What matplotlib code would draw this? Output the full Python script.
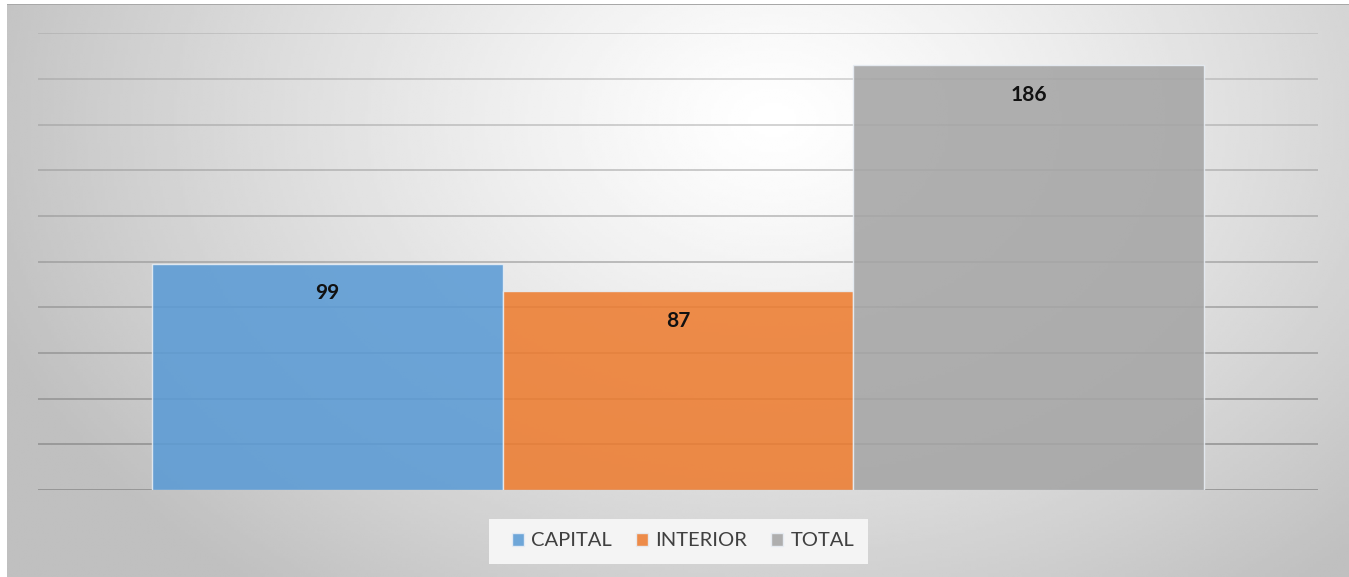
import matplotlib.pyplot as plt
import numpy as np
from matplotlib.patches import Rectangle

categories = ['CAPITAL', 'INTERIOR', 'TOTAL']
values = [99, 87, 186]
colors = ['#5b9bd5', '#ed7d31', '#a5a5a5']
yticks = [0, 20, 40, 60, 80, 100, 120, 140, 160, 180, 200]

plt.rcParams['font.family'] = ['Lato', 'DejaVu Sans']

fig = plt.figure(figsize=(13.49, 5.77), dpi=100)
fig.patch.set_facecolor('white')

# radial gray background of the chart area
bg = fig.add_axes([7 / 1349, 0, 1 - 7 / 1349, 573 / 577])
bg.set_zorder(-2)
h, w = 200, 470
yy, xx = np.mgrid[0:h, 0:w]
cx, cy = w * 0.57, h * 0.2
r = np.sqrt(((xx - cx) / (w * 0.62)) ** 2 + ((yy - cy) / (h * 1.05)) ** 2)
shade = 1.0 - 0.25 * np.clip(r, 0, 1) ** 1.2
bg.imshow(shade, cmap='gray', vmin=0, vmax=1, aspect='auto', interpolation='bilinear')
bg.set_axis_off()
fig.add_artist(Rectangle((7 / 1349, 572 / 577), 1, 1.2 / 577, transform=fig.transFigure,
                         color='#a8a8a8', lw=0, zorder=-1))
# legend background box
fig.add_artist(Rectangle((489 / 1349, 13 / 577), 379 / 1349, 45 / 577,
                         transform=fig.transFigure, color='#f4f4f4', lw=0, zorder=-1))

ax = fig.add_axes([38 / 1349, 87 / 577, 1280 / 1349, 456.6 / 577])
ax.patch.set_alpha(0)
x = np.arange(len(categories))
bars = ax.bar(x, values, width=1.0, color=colors, alpha=0.88,
              edgecolor='#e8eef5', linewidth=1.0, zorder=1)

ax.set_xlim(-0.825, 2.825)
ax.set_ylim(0, 200)
ax.set_yticks(yticks)
ax.yaxis.grid(True, color='#8c8c8c', lw=1.3, zorder=0)
gl = ax.get_ygridlines()
for i, line in enumerate(gl):
    line.set_alpha(0.85 - 0.055 * i)
ax.set_axisbelow(True)
ax.tick_params(left=False, bottom=False, labelleft=False, labelbottom=False)
for s in ax.spines.values():
    s.set_visible(False)

for b, v in zip(bars, values):
    ax.annotate(str(v), (b.get_x() + b.get_width() / 2, v), xytext=(0, -21),
                textcoords='offset points', ha='center', va='center',
                fontsize=15, fontweight='bold', color='#111111')

leg = ax.legend(bars, categories, loc='center', bbox_to_anchor=(683 / 1349, 36 / 577),
                bbox_transform=fig.transFigure, ncol=3, frameon=False, fontsize=14.5,
                handlelength=0.6, handleheight=0.6, handletextpad=0.35, columnspacing=1.2,
                borderpad=0.3, borderaxespad=0)
for t in leg.get_texts():
    t.set_color('#404040')

fig.savefig('out.png', dpi=100)
